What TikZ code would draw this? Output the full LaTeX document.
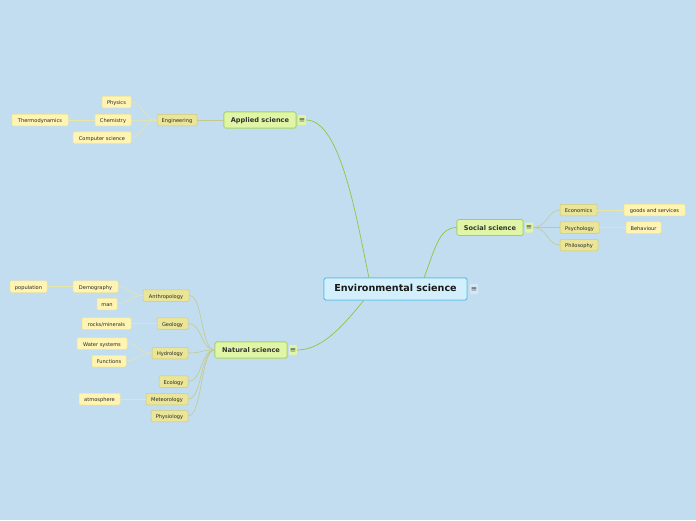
\documentclass[tikz,border=0pt]{standalone}
\usepackage{fontspec}
\setmainfont{DejaVu Sans}
\begin{document}
\begin{tikzpicture}[x=1pt,y=-1pt,
  central/.style={draw=cborder,fill=cfill,line width=0.9pt,rounded corners=2pt,minimum width=143pt,minimum height=22pt,inner sep=0pt,text height=0.75em,text depth=0.2em,font=\fontsize{9.6}{11}\selectfont\bfseries,text=black!90},
  maintopic/.style={draw=mborder,fill=mfill,line width=0.7pt,rounded corners=1.5pt,minimum height=16pt,inner sep=0pt,text height=0.75em,text depth=0.2em,font=\fontsize{6.6}{8}\selectfont\bfseries,text=black!80},
  subtopic/.style={draw=sborder,fill=sfill,line width=0.5pt,rounded corners=1.2pt,minimum height=11.5pt,inner sep=0pt,text height=0.75em,text depth=0.2em,font=\fontsize{5.1}{6}\selectfont,text=black!85},
  leaf/.style={draw=lborder,fill=lfill,line width=0.5pt,rounded corners=1.2pt,minimum height=11.5pt,inner sep=0pt,text height=0.75em,text depth=0.2em,font=\fontsize{5.1}{6}\selectfont,text=black!85},
  menuicon/.style={fill=mfill,inner sep=0pt,minimum width=8pt,minimum height=10pt,rounded corners=1pt,font=\fontsize{7.5}{8}\selectfont,text=black!70},
  cmenuicon/.style={fill=bg!70!white,inner sep=0pt,minimum width=8pt,minimum height=10pt,rounded corners=1pt,font=\fontsize{7.5}{8}\selectfont,text=black!70},
  mainlink/.style={draw=mainline,line width=0.7pt},
  sublink/.style={draw=subline,line width=0.6pt},
  leaflink/.style={draw=leafline,line width=0.5pt}
]
\definecolor{bg}{HTML}{C3DDF0}
\definecolor{cfill}{HTML}{D3EFFC}
\definecolor{cborder}{HTML}{5CC0EA}
\definecolor{mfill}{HTML}{E0F6A6}
\definecolor{mborder}{HTML}{A3CF5E}
\definecolor{sfill}{HTML}{EAE598}
\definecolor{sborder}{HTML}{D0CB78}
\definecolor{lfill}{HTML}{FFF4B3}
\definecolor{lborder}{HTML}{F5E890}
\definecolor{mainline}{HTML}{8CC63F}
\definecolor{subline}{HTML}{C2C98F}
\definecolor{leafline}{HTML}{E8E6A4}

\fill[bg] (0,0) rectangle (696,520);
\useasboundingbox (0,0) rectangle (696,520);

% coordinates for link ends
\coordinate (envA) at (369,278);
\coordinate (envS) at (424,278);
\coordinate (envN) at (364,300);

% central
\node[central] (env) at (395.5,289) {Environmental science};
\node[cmenuicon] (envm) at (474,289) {≡};

% main topics
\node[maintopic,minimum width=72pt] (app) at (260,120) {Applied science};
\node[menuicon] (appm) at (302,120) {≡};
\node[maintopic,minimum width=66pt] (soc) at (490,227.5) {Social science};
\node[menuicon] (socm) at (529,227.5) {≡};
\node[maintopic,minimum width=72pt] (nat) at (251,350) {Natural science};
\node[menuicon] (natm) at (293,350) {≡};

% applied
\node[subtopic,minimum width=40pt] (eng) at (177,120) {Engineering};
\node[leaf,minimum width=29pt] (phy) at (116.5,102) {Physics};
\node[leaf,minimum width=36pt] (che) at (113,120) {Chemistry};
\node[leaf,minimum width=58pt] (cs) at (102,137.5) {Computer science};
\node[leaf,minimum width=56pt] (thd) at (40,120) {Thermodynamics};

% social
\node[subtopic,minimum width=37pt] (eco) at (578.5,210) {Economics};
\node[subtopic,minimum width=39pt] (psy) at (579.5,227.5) {Psychology};
\node[subtopic,minimum width=38pt] (phi) at (579,245) {Philosophy};
\node[leaf,minimum width=61pt] (gs) at (654.5,210) {goods and services};
\node[leaf,minimum width=35pt] (beh) at (643.5,227.5) {Behaviour};

% natural
\node[subtopic,minimum width=46pt] (ant) at (166,295.5) {Anthropology};
\node[leaf,minimum width=45pt] (dem) at (95.5,286.5) {Demography};
\node[leaf,minimum width=37pt] (pop) at (28.5,286.5) {population};
\node[leaf,minimum width=20pt] (man) at (107,304) {man};
\node[subtopic,minimum width=31pt] (geo) at (172.5,323.5) {Geology};
\node[leaf,minimum width=49pt] (rock) at (106.5,323.5) {rocks/minerals};
\node[subtopic,minimum width=36pt] (hyd) at (170,353) {Hydrology};
\node[leaf,minimum width=50pt] (ws) at (102,343.5) {Water systems};
\node[leaf,minimum width=34pt] (fun) at (109,361) {Functions};
\node[subtopic,minimum width=29pt] (ecol) at (173.5,381.5) {Ecology};
\node[subtopic,minimum width=42pt] (met) at (167,399) {Meteorology};
\node[leaf,minimum width=41pt] (atm) at (99.5,399) {atmosphere};
\node[subtopic,minimum width=37pt] (phys) at (169.5,416) {Physiology};

% main links
\draw[mainlink] (envA) .. controls (356,215) and (340,120) .. (appm.east);
\draw[mainlink] (envS) .. controls (436,245) and (440,227.5) .. (soc.west);
\draw[mainlink] (envN) .. controls (340,330) and (320,350) .. (natm.east);

% applied links
\draw[sublink] (app.west) -- (eng.east);
\foreach \t in {phy,che,cs}
  \draw[leaflink] (eng.west) .. controls +(-14,0) and +(12,0) .. (\t.east);
\draw[leaflink] (che.west) -- (thd.east);

% social links
\foreach \t in {eco,psy,phi}
  \draw[sublink] (socm.east) .. controls +(14,0) and +(-12,0) .. (\t.west);
\draw[leaflink] (eco.east) -- (gs.west);
\draw[leaflink] (psy.east) -- (beh.west);

% natural links
\foreach \t in {ant,geo,hyd,ecol,met,phys}
  \draw[sublink] (nat.west) .. controls +(-14,0) and +(14,0) .. (\t.east);
\foreach \t in {dem,man}
  \draw[leaflink] (ant.west) .. controls +(-12,0) and +(10,0) .. (\t.east);
\draw[leaflink] (dem.west) -- (pop.east);
\draw[leaflink] (geo.west) -- (rock.east);
\foreach \t in {ws,fun}
  \draw[leaflink] (hyd.west) .. controls +(-12,0) and +(10,0) .. (\t.east);
\draw[leaflink] (met.west) -- (atm.east);

% redraw main boxes on top of links
\node[central] at (env) {Environmental science};
\node[maintopic,minimum width=72pt] at (app) {Applied science};
\node[maintopic,minimum width=66pt] at (soc) {Social science};
\node[maintopic,minimum width=72pt] at (nat) {Natural science};
\end{tikzpicture}
\end{document}
